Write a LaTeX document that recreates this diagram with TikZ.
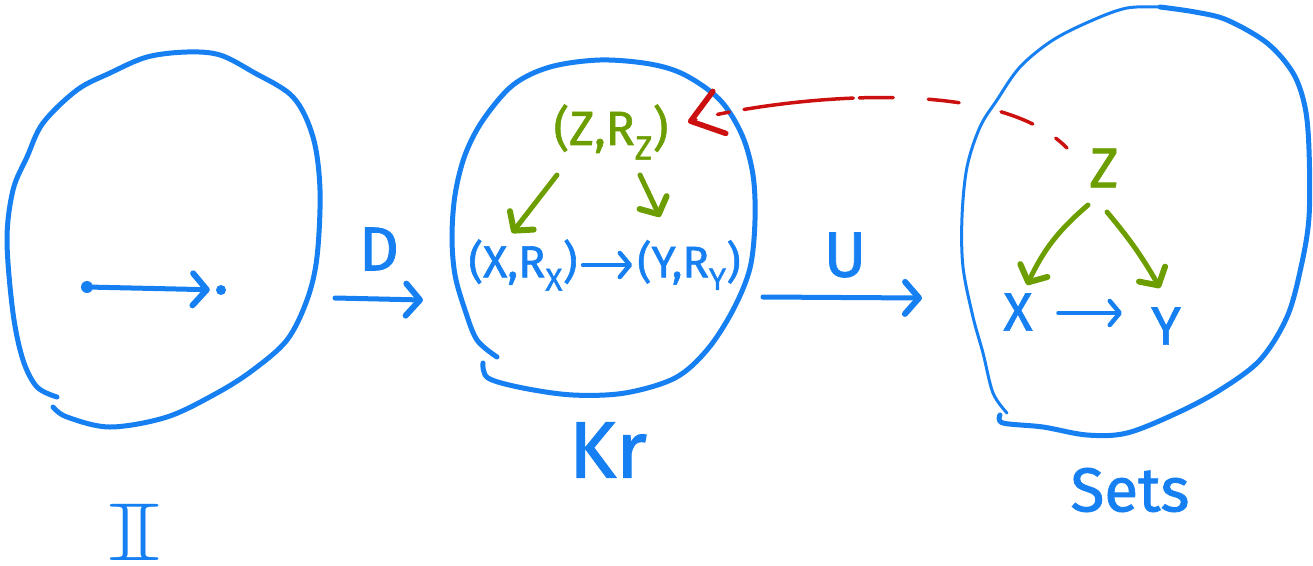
\documentclass[tikz,border=0pt]{standalone}
\usepackage{fontspec}
\setmainfont{Fira Sans}
\newfontfamily\handfont{Fira Sans}[FakeBold=1.3]
\usepackage{amssymb}
\usetikzlibrary{arrows.meta,calc}
\definecolor{hblue}{RGB}{22,128,242}
\definecolor{hgreen}{RGB}{108,158,0}
\definecolor{hred}{RGB}{204,16,16}
\tikzset{
  blob/.style={hblue, line width=5pt, line cap=round, line join=round},
  thinblob/.style={hblue, line width=3pt, line cap=round, line join=round},
  bluearr/.style={hblue, line width=5pt, line cap=round,
    -{Straight Barb[round,length=14pt,width=32pt,line width=6pt]}},
  smallblue/.style={hblue, line width=3.5pt, line cap=round,
    -{Straight Barb[round,length=10pt,width=24pt,line width=4.5pt]}},
  greenarr/.style={hgreen, line width=5pt, line cap=round,
    -{Straight Barb[round,length=13pt,width=30pt,line width=6pt]}},
  redarr/.style={hred, line width=3.5pt, line cap=round,
    dash pattern=on 15pt off 27pt on 34pt off 43pt on 31pt off 35pt on 34pt off 6pt on 110pt off 15pt on 12pt off 22pt on 40pt,
    -{Straight Barb[round,length=30pt,width=44pt,line width=5.5pt]}},
  btxt/.style={hblue, inner sep=1pt, font=\handfont\fontsize{#1pt}{#1pt}\selectfont},
  gtxt/.style={hgreen, inner sep=1pt, font=\handfont\fontsize{#1pt}{#1pt}\selectfont},
  dotnode/.style={circle, fill=hblue, inner sep=0pt, minimum size=#1},
}
\begin{document}
\begin{tikzpicture}[x=1pt,y=-1pt]
\useasboundingbox (0,0) rectangle (1313,565);

% ---- left blob
\draw[blob] plot[smooth, tension=0.55] coordinates {(57,397) (37,387) (23,360) (13,313) (7,240) (13,190) (27,157) (43,123) (77,90) (110,73) (147,57) (187,52) (220,55) (253,72) (293,97) (313,137) (320,190) (317,257) (307,300) (287,340) (253,370) (217,393) (167,417) (110,427) (67,417) (53,407)};
\node[dotnode=12pt] (p) at (87,287) {};
\node[dotnode=10pt] (q) at (221,290) {};
\draw[bluearr, shorten >=6pt] (p) -- (q);
\node[hblue, inner sep=1pt, font=\fontsize{82pt}{82pt}\selectfont] (I) at (135,532) {\scalebox{1.7}[1]{$\mathbb{I}$}};

% ---- D arrow
\node[btxt=62] (D) at (379,249) {D};
\coordinate (d1) at (335,298);
\coordinate (d2) at (423,300);
\draw[bluearr] (d1) -- (d2);

% ---- middle blob
\draw[blob] plot[smooth, tension=0.55] coordinates {(497,357) (477,340) (465,310) (455,275) (452,237) (455,195) (465,155) (483,120) (513,85) (550,67) (600,60) (650,64) (685,75) (720,100) (742,135) (753,175) (755,220) (750,268) (733,310) (707,350) (675,378) (625,393) (573,395) (523,388) (488,378) (483,363)};
\node[gtxt=48] (ZR) at (611,132) {(Z,R\textsubscript{Z})};
\node[btxt=45] (XR) at (523,265) {(X,R\textsubscript{X})};
\node[btxt=44] (YR) at (689,265) {(Y,R\textsubscript{Y})};
\draw[smallblue, shorten <=4pt, shorten >=4pt] (XR) -- (YR);
\draw[greenarr] ($(ZR)+(-54,43)$) -- ($(XR)+(-11,-32)$);
\draw[greenarr] ($(ZR)+(29,43)$) -- ($(YR)+(-29,-48)$);
\node[btxt=80] (Kr) at (608,450) {Kr};

% ---- U arrow
\node[btxt=64] (U) at (845,255) {U};
\coordinate (u1) at (763,297);
\coordinate (u2) at (922,298);
\draw[bluearr] (u1) -- (u2);

% ---- right blob
\draw[thinblob] plot[smooth, tension=0.55] coordinates {(1007,413) (993,393) (983,353) (973,317) (963,267) (962,217) (967,167) (980,127) (997,100) (1020,67) (1053,40) (1093,20) (1127,8) (1160,7)};
\draw[blob] plot[smooth, tension=0.55] coordinates {(1160,7) (1195,12) (1227,20) (1267,43) (1293,73) (1305,107) (1309,150) (1309,217) (1301,267) (1287,317) (1260,360) (1220,390) (1177,413) (1127,433) (1087,435) (1043,427) (1003,423) (1000,415)};
\node[gtxt=56] (Zs) at (1104,168) {Z};
\node[btxt=54] (Xs) at (1018,312) {X};
\node[btxt=54] (Ys) at (1166,326) {Y};
\draw[smallblue] ($(Xs)+(40,1)$) -- ($(Ys)+(-44,-13)$);
\draw[greenarr] ($(Zs)+(-16,37)$) to[bend right=12] ($(Xs)+(9,-27)$);
\draw[greenarr] ($(Zs)+(3,44)$) to[bend left=5] ($(Ys)+(-6,-38)$);
\node[btxt=62] (Sets) at (1130,490) {Sets};

% ---- red dashed arrow
\draw[redarr] ($(Zs)+(-37,-20)$) .. controls (985,65) and (740,106) .. ($(ZR)+(77,-10)$);
\end{tikzpicture}
\end{document}
